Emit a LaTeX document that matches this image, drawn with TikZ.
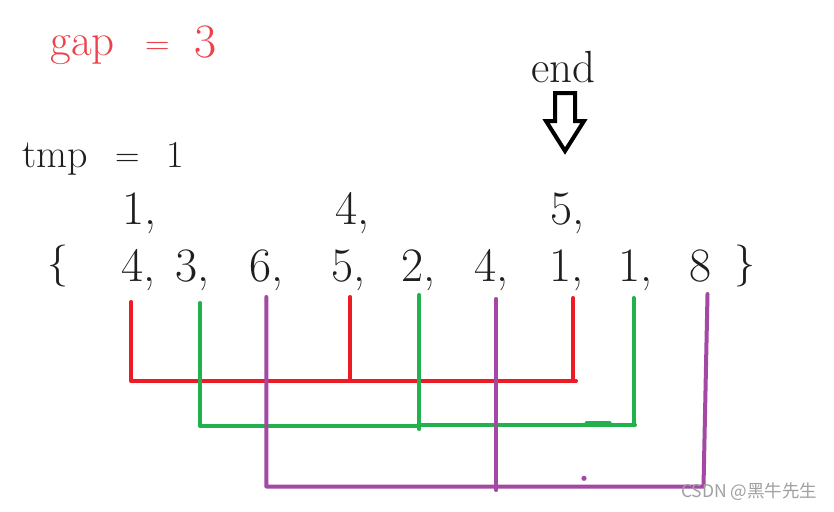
\documentclass[tikz,border=0pt]{standalone}
\usepackage{fontspec}
\newfontfamily\cjkfont{Noto Sans CJK SC}
\definecolor{ink}{RGB}{30,30,30}
\definecolor{gapred}{RGB}{236,66,76}
\definecolor{pred}{RGB}{237,28,36}
\definecolor{pgreen}{RGB}{34,177,76}
\definecolor{ppurple}{RGB}{163,73,164}
\definecolor{wmark}{RGB}{160,160,160}
\tikzset{
  txt/.style={inner sep=0pt, outer sep=0pt, text=ink},
  num/.style={txt, anchor=base west, font=\fontsize{48}{50}\selectfont},
  eqs/.style={txt, anchor=base west, font=\fontsize{34}{36}\selectfont},
  brace/.style={txt, anchor=center, font=\fontsize{42}{44}\selectfont},
  stroke/.style={line width=4pt, line cap=round, line join=round},
  redline/.style={stroke, draw=pred},
  greenline/.style={stroke, draw=pgreen},
  purpleline/.style={stroke, draw=ppurple}
}
\begin{document}
\begin{tikzpicture}[x=1pt,y=-1pt]
\useasboundingbox[fill=white] (0,0) rectangle (834,511);

% gap = 3
\node[txt, anchor=base west, text=gapred, font=\fontsize{45}{47}\selectfont] (gapw) at (50.5,56) {gap};
\node[eqs, text=gapred] (gapeq) at (145,54.5) {=};
\node[num, text=gapred] (gapv) at (194,57) {3};

% end + arrow
\node[txt, anchor=base west, font=\fontsize{45}{47}\selectfont] (endw) at (531.5,82) {end};
\draw[line width=4pt, line join=miter, draw=black]
  (555,93) -- (575,93) -- (575,121) -- (584,121) -- (565,151) -- (546,121) -- (555,121) -- cycle;

% tmp = 1
\node[txt, anchor=base west, font=\fontsize{40}{42}\selectfont] (tmpw) at (22,167) {tmp};
\node[eqs] (tmpeq) at (115,166) {=};
\node[txt, anchor=base, font=\fontsize{38}{40}\selectfont] (tmpv) at (175.5,167) {1};

% top row
\node[num] (t1) at (122.5,224) {1,};
\node[num] (t2) at (335.5,224) {4,};
\node[num] (t3) at (550.5,224) {5,};

% array row
\node[brace] (lb) at (57.5,266) {\{};
\node[num] (r1) at (121,281) {4,};
\node[num] (r2) at (175,281) {3,};
\node[num] (r3) at (249,281) {6,};
\node[num] (r4) at (331,281) {5,};
\node[num] (r5) at (401,281) {2,};
\node[num] (r6) at (474,281) {4,};
\node[num] (r7) at (549.5,281) {1,};
\node[num] (r8) at (618,281) {1,};
\node[num] (r9) at (689,281) {8};
\node[brace] (rb) at (745,266) {\}};

% red group
\draw[redline] (131.3,302) -- (131.3,381) -- (576,381);
\draw[redline] (350.2,297) -- (350.2,381);
\draw[redline] (573.3,298) -- (573.3,381);

% green group
\draw[greenline] (200.3,303) -- (200.3,426) -- (419.3,426);
\draw[greenline] (419.3,424.5) -- (635,424.5);
\draw[greenline] (419.3,295) -- (419.3,429);
\draw[greenline] (633.5,298) -- (633.5,425);
\draw[greenline, line width=3pt] (586,422.5) -- (610,422.5);

% purple group
\draw[purpleline] (266.3,297) -- (266.3,486.5) -- (703.5,486.5) -- (707.5,294);
\draw[purpleline] (496.3,299) -- (496.3,490);
\fill[ppurple] (584,478.3) circle (2.6pt);

% watermark
\node[txt, anchor=base west, text=wmark, font=\cjkfont\fontsize{17.5}{19}\selectfont] (wm) at (681,497.5) {CSDN @黑牛先生};
\end{tikzpicture}
\end{document}
